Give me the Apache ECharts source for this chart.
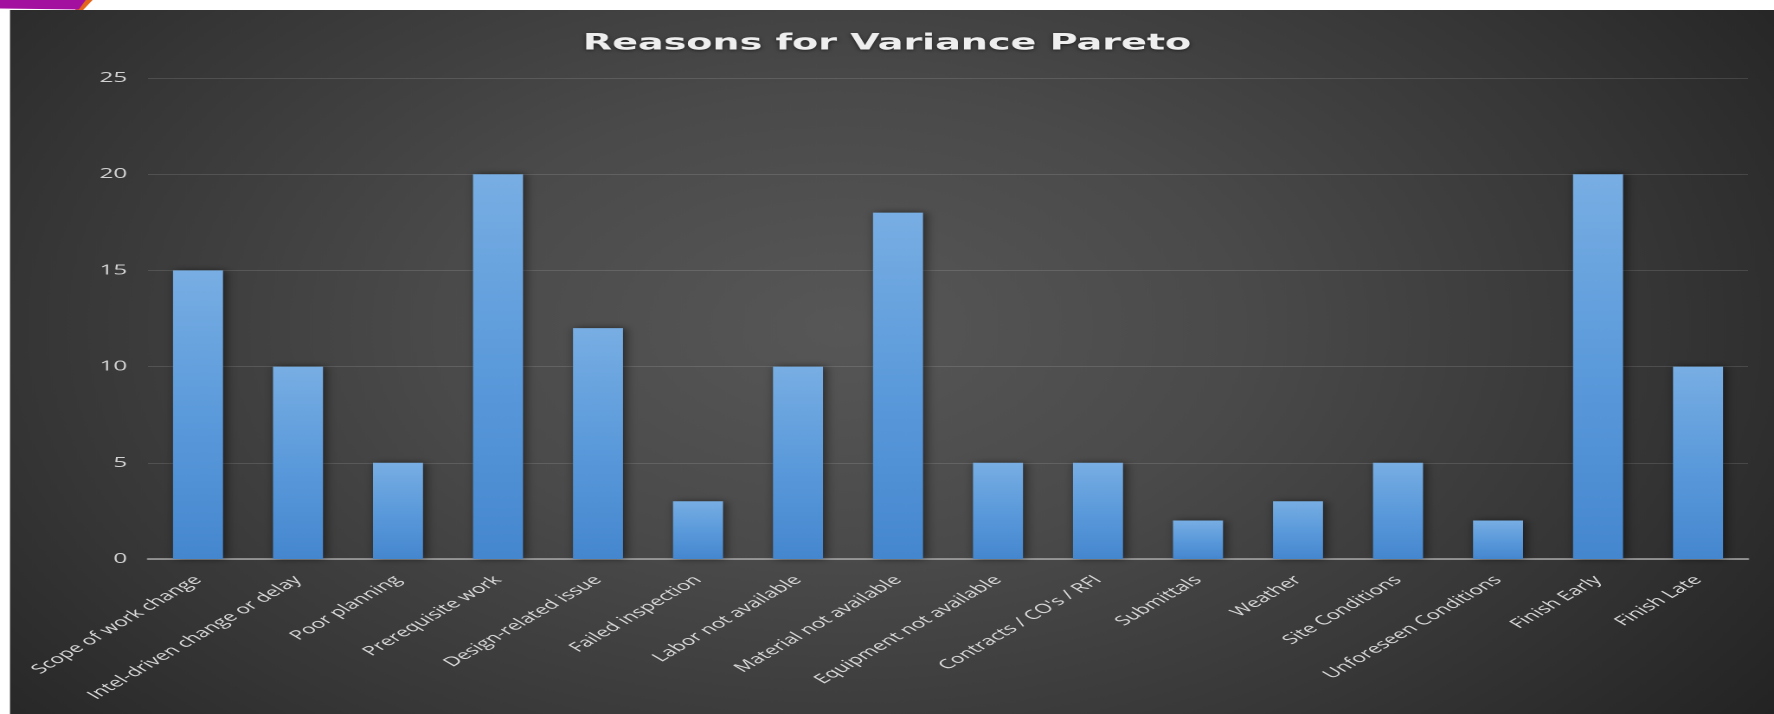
<!DOCTYPE html>
<html>
<head>
<meta charset="utf-8">
<title>Reasons for Variance Pareto</title>
<script src="https://cdn.jsdelivr.net/npm/echarts@6/dist/echarts.min.js"></script>
<style>
  html, body { margin: 0; padding: 0; background: #ffffff; overflow: hidden; }
  #stage { position: relative; width: 1774px; height: 714px; overflow: hidden; }
  /* the chart is laid out on a narrower canvas and widened to the slide width */
  #chart { width: 1025px; height: 714px; transform-origin: 0 0; transform: scaleX(1.7307); }
</style>
</head>
<body>
<div id="stage"><div id="chart"></div></div>
<script>
// Variance reasons and how often each was recorded
const categories = [
  'Scope of work change',
  'Intel-driven change or delay',
  'Poor planning',
  'Prerequisite work',
  'Design-related issue',
  'Failed inspection',
  'Labor not available',
  'Material not available',
  'Equipment not available',
  "Contracts / CO's / RFI",
  'Submittals',
  'Weather',
  'Site Conditions',
  'Unforeseen Conditions',
  'Finish Early',
  'Finish Late'
];
const counts = [15, 10, 5, 20, 12, 3, 10, 18, 5, 5, 2, 3, 5, 2, 20, 10];

// value axis ticks
const yMin = 0;
const yMax = 25;
const yStep = 5;

const chart = echarts.init(document.getElementById('chart'), null, {
  renderer: 'canvas',
  devicePixelRatio: 2
});

const panelBackground = {
  type: 'radial',
  x: 0.47, y: 0.45, r: 0.95,
  colorStops: [
    { offset: 0, color: '#575757' },
    { offset: 0.35, color: '#4a4a4a' },
    { offset: 0.7, color: '#363636' },
    { offset: 1, color: '#232323' }
  ]
};

const barFill = {
  type: 'linear', x: 0, y: 0, x2: 0, y2: 1,
  colorStops: [
    { offset: 0, color: '#78aee3' },
    { offset: 0.5, color: '#5b9adb' },
    { offset: 1, color: '#4587cf' }
  ]
};

chart.setOption({
  backgroundColor: '#ffffff',
  animation: false,
  graphic: {
    elements: [
      {
        type: 'rect', silent: true, z: -10,
        shape: { x: 5.78, y: 10, width: 1020, height: 704 },
        style: { fill: panelBackground }
      },
      {
        type: 'polygon', silent: true, z: 100,
        shape: { points: [[44.5, 0], [53.5, 0], [48, 10], [43.5, 10]] },
        style: { fill: '#e2661c' }
      },
      {
        type: 'polygon', silent: true, z: 101,
        shape: { points: [[0, 0], [49.5, 0], [45.5, 9.5], [0, 8.5]] },
        style: { fill: '#a3109f' }
      }
    ]
  },
  title: {
    text: 'Reasons for Variance Pareto',
    left: 'center',
    top: 28,
    padding: [5, 0, 5, 8],
    textStyle: {
      fontFamily: 'DejaVu Sans',
      fontWeight: 'bold',
      fontSize: 22,
      color: '#eeeeee',
      textShadowColor: 'rgba(0,0,0,0.55)',
      textShadowBlur: 3,
      textShadowOffsetY: 1
    }
  },
  grid: {
    left: 85.5,
    right: 15,
    top: 78,
    bottom: 155
  },
  xAxis: {
    type: 'category',
    data: categories,
    axisTick: { show: false },
    axisLine: { lineStyle: { color: '#a8a8a8', width: 1.5 } },
    axisLabel: {
      interval: 0,
      rotate: 45,
      margin: 19,
      color: '#d9d9d9',
      fontFamily: 'Open Sans',
      fontSize: 13
    }
  },
  yAxis: {
    type: 'value',
    min: yMin,
    max: yMax,
    interval: yStep,
    axisLine: { show: false },
    axisTick: { show: false },
    axisLabel: {
      margin: 12,
      color: '#d2d2d2',
      fontFamily: 'Open Sans',
      fontSize: 14
    },
    splitLine: { lineStyle: { color: 'rgba(255,255,255,0.12)', width: 1 } }
  },
  series: [{
    type: 'bar',
    data: counts,
    barWidth: '50%',
    itemStyle: {
      color: barFill,
      shadowColor: 'rgba(0,0,0,0.55)',
      shadowBlur: 6,
      shadowOffsetX: 1.5
    }
  }]
});
</script>
</body>
</html>
